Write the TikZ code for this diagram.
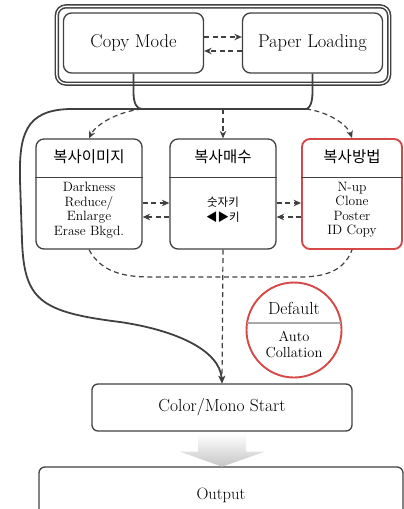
\documentclass[tikz,border=0pt]{standalone}
\usepackage{fontspec}
\newfontfamily\korean{Noto Sans CJK KR}
\usetikzlibrary{arrows.meta, calc}
\definecolor{lineGray}{RGB}{64,64,64}
\definecolor{methodRed}{RGB}{214,72,72}
\definecolor{divGray}{RGB}{168,168,168}

\begin{document}
\begin{tikzpicture}[x=1pt, y=-1pt,
  box/.style={draw=lineGray, line width=1.3pt, rounded corners=8pt, align=center, inner sep=0pt},
  topbox/.style={box, minimum width=140pt, minimum height=60pt, font=\fontsize{18.5}{22}\selectfont},
  catbox/.style={box, minimum height=110pt},
  head/.style={inner sep=0pt, font=\korean\fontsize{15.5}{18}\selectfont},
  body/.style={inner sep=0pt, align=center, font=\fontsize{13.5}{14.5}\selectfont},
  arr/.style={-{Stealth[length=7.5pt, width=6.5pt]}, lineGray},
  darr/.style={arr, line width=1.2pt, dash pattern=on 5pt off 3.5pt},
  flow/.style={lineGray, line width=1.8pt}
]
  \useasboundingbox (0,0) rectangle (404,509);

  \node[topbox] (copymode) at (133.5,43) {Copy Mode};
  \node[topbox] (paper) at (312.5,43) {Paper Loading};
  \draw[lineGray, line width=1.5pt, double=white, double distance=1.3pt, rounded corners=9pt]
    ($(copymode.north west)+(-6,-6)$) rectangle ($(paper.south east)+(6,10)$);
  \draw[darr] (copymode.east |- 0,37) -- (paper.west |- 0,37);
  \draw[darr] (paper.west |- 0,51) -- (copymode.east |- 0,51);

  \coordinate (jl) at (70,109);
  \coordinate (j1) at (142,109);
  \coordinate (j2) at (223,109);
  \coordinate (jr) at (306,109);

  \node[catbox, minimum width=106pt] (img) at (89,194) {};
  \node[catbox, minimum width=106pt] (qty) at (223,194) {};
  \node[catbox, minimum width=100pt, draw=methodRed, line width=1.9pt] (method) at (352,194) {};
  \foreach \b in {img, qty, method}
    \draw[lineGray, line width=1pt] (\b.west |- 0,177) -- (\b.east |- 0,177);

  \node[head] (imghead) at (img |- 0,157) {복사이미지};
  \node[head] (qtyhead) at (qty |- 0,157) {복사매수};
  \node[head] (methodhead) at (method |- 0,157) {복사방법};
  \node[body] (imgbody) at (img |- 0,210) {Darkness\\Reduce/\\Enlarge\\Erase Bkgd.};
  \node[body, font=\korean\fontsize{11.5}{15}\selectfont] (qtybody) at (qty |- 0,210) {숫자키\\◀▶키};
  \node[body] (methodbody) at (method |- 0,210) {N-up\\Clone\\Poster\\ID Copy};

  \draw[darr] (img.east |- 0,203) -- (qty.west |- 0,203);
  \draw[darr] (qty.west |- 0,217) -- (img.east |- 0,217);
  \draw[darr] (qty.east |- 0,203) -- (method.west |- 0,203);
  \draw[darr] (method.west |- 0,217) -- (qty.east |- 0,217);

  \node[box, minimum width=260pt, minimum height=47pt, rounded corners=6pt,
    font=\fontsize{17.5}{20}\selectfont] (start) at (222,407.5) {Color/Mono Start};
  \node[box, minimum width=364pt, minimum height=56pt, rounded corners=6pt,
    font=\fontsize{16.5}{19}\selectfont] (output) at (221,495) {Output};

  % mode boxes join into one bus
  \draw[flow] (copymode.south) -- (133.5,92) .. controls (133.5,104) and (137,109) .. (j1);
  \draw[flow] (paper.south) -- (312.5,92) .. controls (312.5,104) and (309,109) .. (jr);
  \draw[flow, arr] (jr) -- (jl) .. controls (25,110) and (19,135) .. (20,180) -- (22,240)
    .. controls (24,300) and (40,312) .. (120,322)
    .. controls (175,330) and (220,350) .. (start.north);

  \draw[darr] (j1) .. controls (115,112) and (95,126) .. (img.north);
  \draw[darr] (j2) -- (qty.north);
  \draw[darr] (jr) .. controls (330,112) and (348,126) .. (method.north);

  \draw[lineGray, line width=1.2pt, dash pattern=on 5pt off 3.5pt]
    (img.south) .. controls (100,270) and (120,277) .. (150,277) -- (300,277)
    .. controls (330,277) and (345,268) .. (method.south);
  \draw[darr] (qty.south) -- (start.north);

  \node[circle, draw=methodRed, line width=1.9pt, minimum size=95pt, inner sep=0pt] (default) at (294,330) {};
  \draw[divGray, line width=1.5pt] (default.center |- 0,323) ++(-47,0) -- ++(94,0);
  \node[inner sep=0pt, font=\fontsize{17.5}{19}\selectfont] (defhead) at (default |- 0,308) {Default};
  \node[body, font=\fontsize{14.5}{16}\selectfont] (defbody) at (default |- 0,344) {Auto\\Collation};

  \shade[top color=white, bottom color=gray!45]
    ($(start.south)+(-24,2)$) -- ($(start.south)+(24,2)$) -- ($(start.south)+(24,20)$)
    -- ($(start.south)+(43,20)$) -- ($(start.south)+(0,35)$) -- ($(start.south)+(-42,20)$)
    -- ($(start.south)+(-24,20)$) -- cycle;
\end{tikzpicture}
\end{document}
